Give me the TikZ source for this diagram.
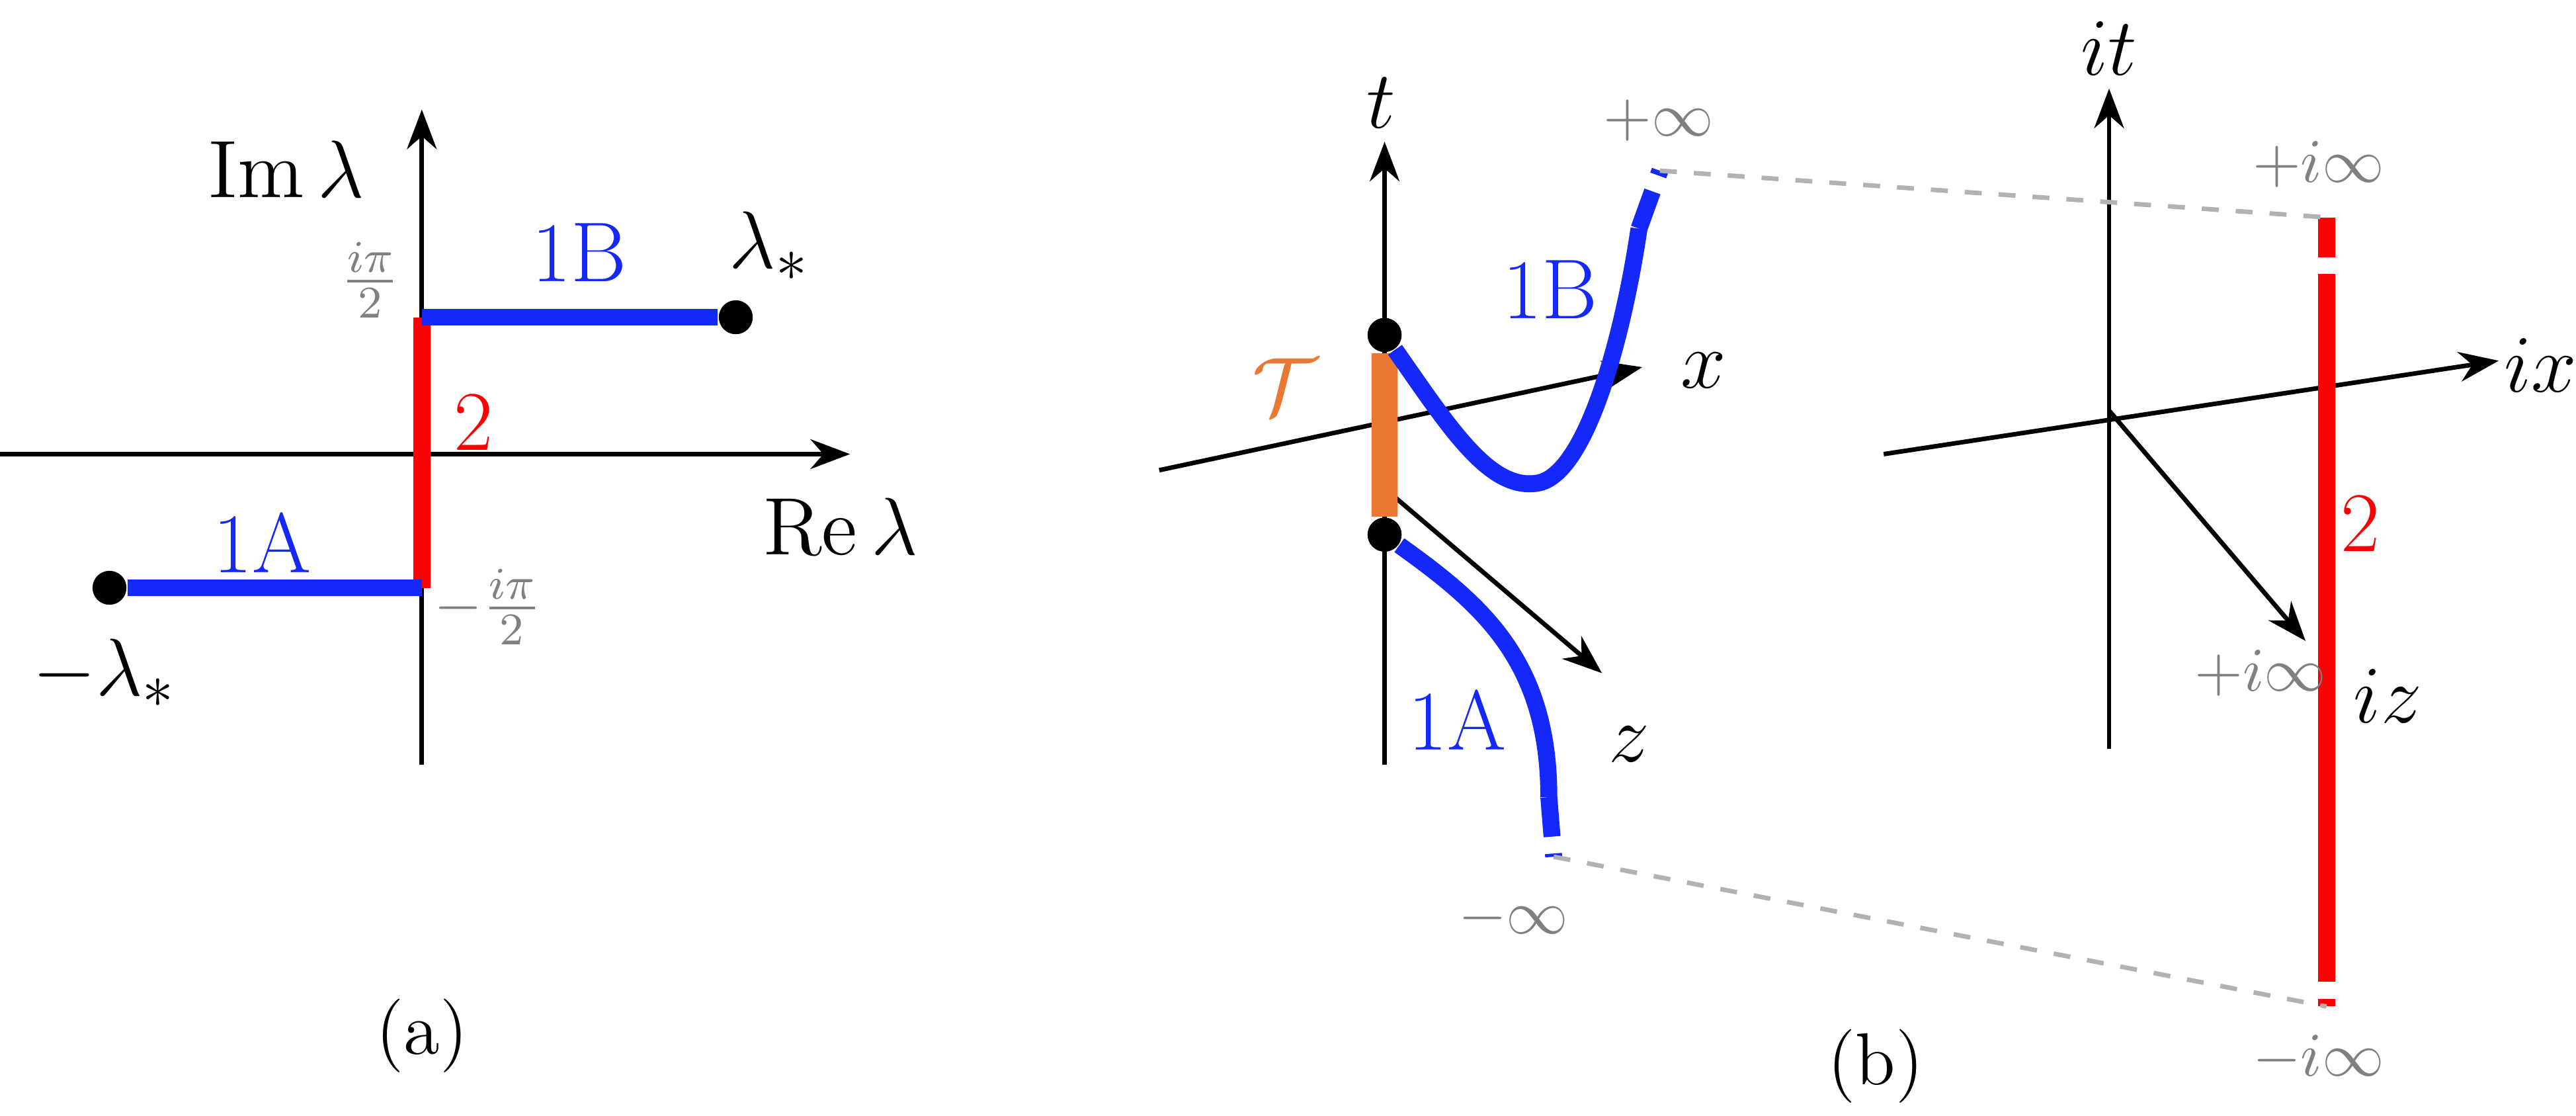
\documentclass[tikz,border=0pt]{standalone}
\usepackage{amsmath}
\usetikzlibrary{arrows.meta}
\definecolor{myblue}{RGB}{20,40,250}
\definecolor{myorange}{RGB}{235,120,50}
\begin{document}
\begin{tikzpicture}[x=0.1mm,y=-0.1mm,
	axis/.style={thick,-{Stealth[length=7pt]}},
	branch/.style={line width=3pt},
	dashend/.style={branch,dash pattern=on 7pt off 3pt},
	gray label/.style={text=gray,font=\fontsize{11}{13}\selectfont},
	big label/.style={font=\fontsize{15}{18}\selectfont},
	dotmark/.style={circle,fill=black,inner sep=0pt,minimum size=6pt}]
	\useasboundingbox (0,0) rectangle (1600,693);
	% panel (a)
	\draw[axis] (0,282) -- (528,282);
	\draw[axis] (262,475) -- (262,68);
	\node[big label] (im) at (178,105) {$\operatorname{Im}\lambda$};
	\node[big label] (re) at (522,327) {$\operatorname{Re}\lambda$};
	\node[dotmark] (lp) at (457,197) {};
	\node[dotmark] (lm) at (68,365) {};
	\coordinate (up) at (262,197);
	\coordinate (dn) at (262,365);
	\draw[branch,red] (up) -- (dn);
	\draw[branch,myblue] (up) -- (lp);
	\draw[branch,myblue] (lm) -- (dn);
	\node[big label,myblue] (l1b) at (360,157) {1B};
	\node[big label,myblue] (l1a) at (163,337) {1A};
	\node[big label] (lst) at (478,153) {$\lambda_*$};
	\node[big label] (mlst) at (65,418) {$-\lambda_*$};
	\node[gray label] (ipi) at (230,174) {$\frac{i\pi}{2}$};
	\node[gray label] (mipi) at (303,377) {$-\frac{i\pi}{2}$};
	\node[big label,red] (two) at (294,262) {2};
	\node[font=\fontsize{13}{15}\selectfont] (capa) at (262,643) {(a)};
	% panel (b), left
	\draw[axis] (860,475) -- (860,88);
	\node[big label] (tl) at (858,64) {$t$};
	\draw[axis] (720,292) -- (1020,228);
	\node[big label] (xl) at (1058,230) {$x$};
	\draw[axis] (862,305) -- (995,418);
	\node[big label] (zl) at (1012,462) {$z$};
	\node[dotmark] (ta) at (860,208) {};
	\node[dotmark] (tb) at (860,332) {};
	\draw[line width=4.5pt,myorange] (ta) -- (tb);
	\node[dotmark] at (ta) {};
	\node[dotmark] at (tb) {};
	\node[big label,myorange] (tau) at (798,240) {$\mathcal{T}$};
	\coordinate (pinf) at (1031,106);
	\coordinate (minf) at (965,532);
	\draw[branch,myblue] (ta) .. controls (900,265) and (925,305) .. (955,300)
		.. controls (985,295) and (1008,210) .. (1018,142);
	\draw[dashend,myblue] (1018,142) -- (pinf);
	\draw[branch,myblue] (tb) .. controls (920,375) and (962,410) .. (962,495);
	\draw[dashend,myblue] (962,495) -- (minf);
	\node[big label,myblue] (b1b) at (963,180) {1B};
	\node[big label,myblue] (b1a) at (905,447) {1A};
	\node[gray label] (pinfl) at (1030,75) {$+\infty$};
	\node[gray label] (minfl) at (940,570) {$-\infty$};
	% panel (b), right
	\draw[axis] (1310,465) -- (1310,55);
	\node[big label] (itl) at (1310,30) {$it$};
	\draw[axis] (1170,282) -- (1552,224);
	\node[big label] (ixl) at (1578,227) {$ix$};
	\draw[axis] (1310,255) -- (1432,398);
	\node[big label] (izl) at (1483,432) {$iz$};
	\coordinate (rt) at (1445,135);
	\coordinate (rb) at (1445,625);
	\draw[branch,red] (1445,175) -- (1445,585);
	\draw[dashend,red] (rt) -- (1445,175);
	\draw[dashend,red] (1445,585) -- (rb);
	\node[big label,red] (two2) at (1466,325) {2};
	\node[gray label] (piz) at (1404,418) {$+i\infty$};
	\node[gray label] (pit) at (1440,102) {$+i\infty$};
	\node[gray label] (mit) at (1440,657) {$-i\infty$};
	\draw[gray!60,dashed,thick] (pinf) -- (rt);
	\draw[gray!60,dashed,thick] (minf) -- (rb);
	\node[font=\fontsize{13}{15}\selectfont] (capb) at (1165,662) {(b)};
\end{tikzpicture}
\end{document}
